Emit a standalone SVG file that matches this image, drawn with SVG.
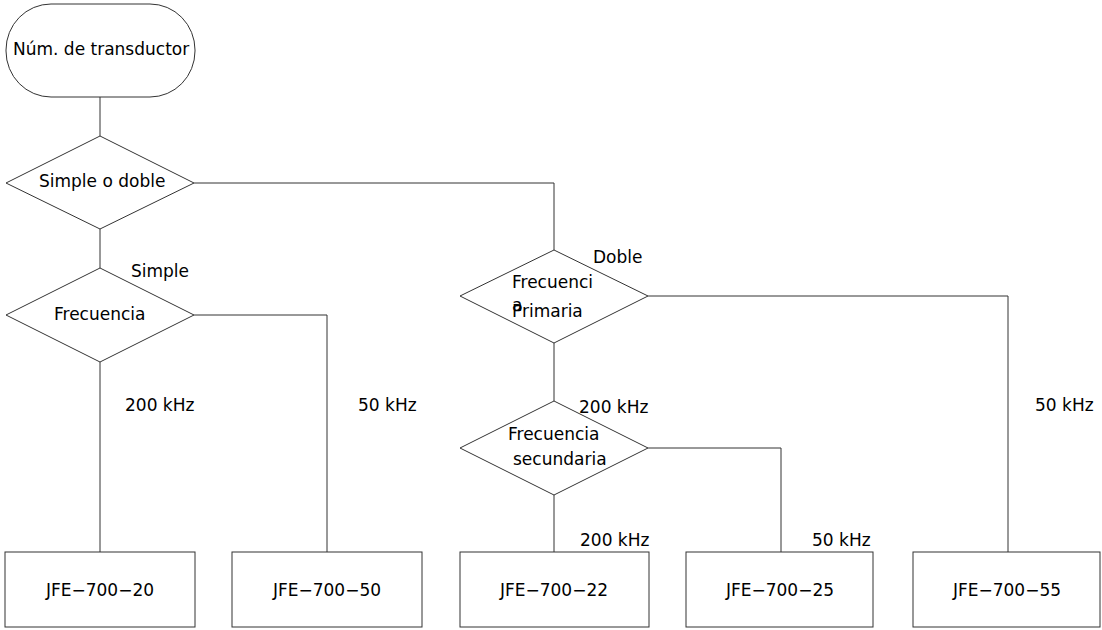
<svg xmlns="http://www.w3.org/2000/svg" width="1102" height="630" viewBox="0 0 1102 630">
<style>
.s{fill:#fff;stroke:#333;stroke-width:1}
.c{fill:none;stroke:#333;stroke-width:1}
text{font-family:"DejaVu Sans",sans-serif;font-size:17px;fill:#000}
.m{text-anchor:middle}
</style>
<rect width="1102" height="630" fill="#fff"/>
<g id="connectors">
<path class="c" d="M100 97V136"/>
<path class="c" d="M194 183H554V250"/>
<path class="c" d="M100 229V268"/>
<path class="c" d="M194 315H327V552"/>
<path class="c" d="M100 362V552"/>
<path class="c" d="M648 296H1008V552"/>
<path class="c" d="M554 343V401"/>
<path class="c" d="M554 495V552"/>
<path class="c" d="M648 448H781V552"/>
</g>
<g id="start">
<rect class="s" x="6" y="4" width="189" height="93" rx="45" ry="46"/>
<text x="13" y="55">Núm. de transductor</text>
</g>
<g id="d1">
<polygon class="s" points="100,136 194,183 100,229 6,183"/>
<text x="39" y="187">Simple o doble</text>
</g>
<g id="d2">
<polygon class="s" points="100,268 194,315 100,362 6,315"/>
<text x="54" y="320">Frecuencia</text>
</g>
<g id="d3">
<polygon class="s" points="554,250 648,296 554,343 460,296"/>
<text x="512" y="288">Frecuenci</text>
<text x="512" y="311">a</text>
<text x="512" y="317">Primaria</text>
</g>
<g id="d4">
<polygon class="s" points="554,401 648,448 554,495 460,448"/>
<text x="508" y="440">Frecuencia</text>
<text x="513" y="465">secundaria</text>
</g>
<g id="b1">
<rect class="s" x="5" y="552" width="190" height="75"/>
<text class="m" x="100" y="596">JFE−700−20</text>
</g>
<g id="b2">
<rect class="s" x="232" y="552" width="190" height="75"/>
<text class="m" x="327" y="596">JFE−700−50</text>
</g>
<g id="b3">
<rect class="s" x="460" y="552" width="189" height="75"/>
<text class="m" x="554" y="596">JFE−700−22</text>
</g>
<g id="b4">
<rect class="s" x="686" y="552" width="187" height="75"/>
<text class="m" x="780" y="596">JFE−700−25</text>
</g>
<g id="b5">
<rect class="s" x="913" y="552" width="187" height="75"/>
<text class="m" x="1007" y="596">JFE−700−55</text>
</g>
<g id="labels">
<text x="131" y="277">Simple</text>
<text x="593" y="263">Doble</text>
<text x="125" y="411">200 kHz</text>
<text x="358" y="411">50 kHz</text>
<text x="1035" y="411">50 kHz</text>
<text x="579" y="413">200 kHz</text>
<text x="580" y="546">200 kHz</text>
<text x="812" y="546">50 kHz</text>
</g>
</svg>
